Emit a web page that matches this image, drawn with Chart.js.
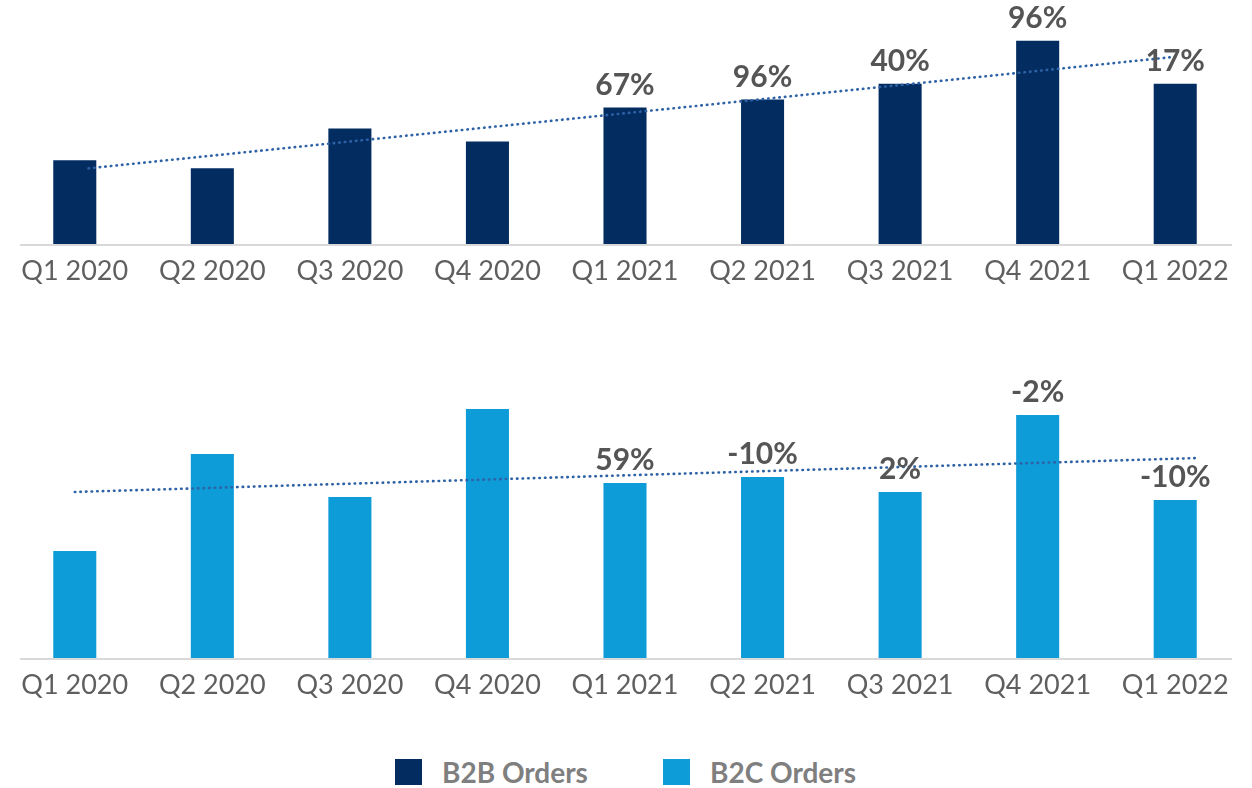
<!DOCTYPE html>
<html>
<head>
<meta charset="utf-8">
<script src="https://cdn.jsdelivr.net/npm/chart.js@4.4.1/dist/chart.umd.min.js"></script>
<style>
  html, body { margin: 0; padding: 0; background: #ffffff; }
  body { width: 1252px; height: 788px; position: relative; overflow: hidden; font-family: Lato, "Open Sans", sans-serif; }
  .box { position: absolute; left: 0; width: 1252px; }
  #legend { position: absolute; left: 0; top: 749px; width: 1252px; height: 36px; }
  .item { position: absolute; top: 6px; display: flex; align-items: center; font: 700 28px Lato, sans-serif; color: #7f7f7f; }
  .sw { width: 27px; height: 26px; margin-right: 20px; }
</style>
</head>
<body>
<div class="box" id="topBox" style="top:0px;height:300px;"><canvas id="c1"></canvas></div>
<div class="box" id="botBox" style="top:300px;height:421px;"><canvas id="c2"></canvas></div>
<div id="legend"></div>
<script>
// ---- data (relative order volumes) ----
const quarters = ["Q1 2020","Q2 2020","Q3 2020","Q4 2020","Q1 2021","Q2 2021","Q3 2021","Q4 2021","Q1 2022"];
const seriesNames = ["B2B Orders", "B2C Orders"];
const b2bOrders = [84, 76, 116, 103, 137, 145, 161, 204, 161];
const b2cOrders = [107, 204, 161, 249, 175, 181, 166, 243, 158];
const b2bGrowth = [null, null, null, null, 67, 96, 40, 96, 17];
const b2cGrowth = [null, null, null, null, 59, -10, 2, -2, -10];
// trendline end points (category position, value)
const b2bTrendX = [0.1, 8.0];
const b2bTrendY = [76, 188];
const b2cTrendX = [0.0, 8.17];
const b2cTrendY = [166, 200];
const b2bMax = 245;
const b2cMax = 358;

const colors = { b2b: "#032d60", b2c: "#0e9cd9", trend: "#2e62a6", label: "#555555", tick: "#5f5f5f", axis: "#d9d9d9" };

const labelPlugin = {
  id: "growthLabels",
  afterDatasetsDraw(chart, args, opts) {
    const ctx = chart.ctx;
    const meta = chart.getDatasetMeta(opts.barIndex);
    ctx.save();
    ctx.font = "700 30px Lato, sans-serif";
    ctx.fillStyle = colors.label;
    ctx.textAlign = "center";
    ctx.textBaseline = "alphabetic";
    opts.values.forEach((v, i) => {
      if (v === null) return;
      const el = meta.data[i];
      ctx.fillText(v + "%", el.x, el.y - 13);
    });
    ctx.restore();
  }
};

const axisLinePlugin = {
  id: "axisLine",
  beforeDatasetsDraw(chart) {
    const { ctx, chartArea } = chart;
    ctx.save();
    ctx.strokeStyle = colors.axis;
    ctx.lineWidth = 2;
    ctx.beginPath();
    ctx.moveTo(chartArea.left + 14, chartArea.bottom + 1);
    ctx.lineTo(chartArea.right - 12, chartArea.bottom + 1);
    ctx.stroke();
    ctx.restore();
  }
};

function makeChart(id, values, color, trendX, trendY, growth, yMax, padBottom, name) {
  return new Chart(document.getElementById(id), {
    type: "bar",
    data: {
      labels: quarters,
      datasets: [
        {
          type: "line",
          label: name + " trend",
          data: trendX.map((x, i) => ({ x: x, y: trendY[i] })),
          xAxisID: "xt",
          borderColor: colors.trend,
          borderWidth: 2.6,
          borderDash: [0.5, 5.1],
          borderCapStyle: "round",
          pointRadius: 0,
          fill: false,
          tension: 0,
          order: 0
        },
        {
          type: "bar",
          label: name,
          data: values,
          xAxisID: "x",
          backgroundColor: color,
          borderWidth: 0,
          grouped: false,
          barPercentage: 0.313,
          categoryPercentage: 1.0,
          order: 1
        }
      ]
    },
    options: {
      responsive: true,
      maintainAspectRatio: false,
      animation: false,
      layout: { padding: { left: 6, right: 8, top: 0, bottom: padBottom } },
      plugins: {
        legend: { display: false },
        tooltip: { enabled: false },
        growthLabels: { values: growth, barIndex: 1 }
      },
      scales: {
        x: {
          type: "category",
          offset: true,
          grid: { display: false, drawTicks: false },
          border: { display: false },
          ticks: { color: colors.tick, font: { family: "Lato", size: 27 }, padding: 11, maxRotation: 0, autoSkip: false }
        },
        xt: { type: "linear", position: "bottom", min: -0.5, max: 8.5, offset: false, bounds: "ticks", display: false, grace: 0 },
        y: { min: 0, max: yMax, display: false }
      }
    },
    plugins: [labelPlugin, axisLinePlugin]
  });
}

makeChart("c1", b2bOrders, colors.b2b, b2bTrendX, b2bTrendY, b2bGrowth, b2bMax, 1.6, seriesNames[0]);
makeChart("c2", b2cOrders, colors.b2c, b2cTrendX, b2cTrendY, b2cGrowth, b2cMax, 8.6, seriesNames[1]);

// HTML legend
const legend = document.getElementById("legend");
const legendX = [395, 663];
[colors.b2b, colors.b2c].forEach((c, i) => {
  const it = document.createElement("div");
  it.className = "item";
  it.style.left = legendX[i] + "px";
  it.innerHTML = '<span class="sw" style="background:' + c + '"></span><span>' + seriesNames[i] + '</span>';
  legend.appendChild(it);
});
</script>
</body>
</html>
